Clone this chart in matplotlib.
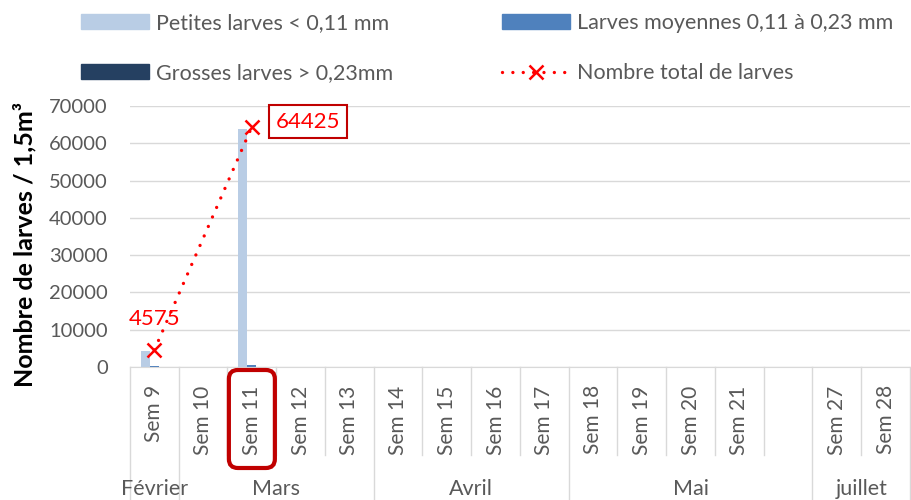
import numpy as np
import matplotlib
matplotlib.use('Agg')
import matplotlib.pyplot as plt
from matplotlib.patches import FancyBboxPatch, Patch
from matplotlib.lines import Line2D
from matplotlib.transforms import IdentityTransform, blended_transform_factory

plt.rcParams['font.family'] = ['Lato', 'DejaVu Sans']

# categories (week labels) and their month groups
weeks = ['Sem 9', 'Sem 10', 'Sem 11', 'Sem 12', 'Sem 13', 'Sem 14', 'Sem 15', 'Sem 16',
         'Sem 17', 'Sem 18', 'Sem 19', 'Sem 20', 'Sem 21', '', 'Sem 27', 'Sem 28']
months = ['Février', 'Mars', 'Avril', 'Mai', 'juillet']
month_sizes = [1, 4, 4, 5, 2]

nan = np.nan
petites = [4350, 0, 63800, 0, 0, 0, 0, 0, 0, 0, 0, 0, 0, 0, 0, 0]
moyennes = [225, 0, 600, 0, 0, 0, 0, 0, 0, 0, 0, 0, 0, 0, 0, 0]
grosses = [0, 0, 25, 0, 0, 0, 0, 0, 0, 0, 0, 0, 0, 0, 0, 0]
total = [4575, nan, 64425, nan, nan, nan, nan, nan, nan, nan, nan, nan, nan, nan, nan, nan]

c_pet = '#B9CDE5'
c_moy = '#4F81BD'
c_gro = '#254061'
grey = '#595959'
gridc = '#D9D9D9'
dots = (0, (0.01, 3.1))

fig = plt.figure(figsize=(9.12, 5), dpi=100)
ax = fig.add_axes([130 / 912, 1 - 367 / 500, 780 / 912, 261 / 500])

x = np.arange(len(weeks))
w = 0.185
ax.bar(x - w, petites, w, color=c_pet, zorder=2)
ax.bar(x, moyennes, w, color=c_moy, zorder=2)
ax.bar(x + w, grosses, w, color=c_gro, zorder=2)

tot = np.array(total, dtype=float)
m = ~np.isnan(tot)
ax.plot(x[m], tot[m], color='#FF0000', lw=2.4, linestyle=dots,
        dash_capstyle='round', marker='x', ms=10, mew=1.8, zorder=3)

ax.annotate('4575', xy=(x[0], tot[0]), xytext=(0, 31), textcoords='offset pixels',
            ha='center', va='center', color='#FF0000', fontsize=16, zorder=4)
ax.annotate('64425', xy=(x[2], tot[2]), xytext=(24, 5), textcoords='offset pixels',
            ha='left', va='center', color='#FF0000', fontsize=16, zorder=4,
            bbox=dict(boxstyle='square,pad=0.3', fc='white', ec='#C00000', lw=1.5))

ax.set_xlim(-0.5, len(weeks) - 0.5)
ax.set_ylim(0, 70000)
ax.set_yticks(np.arange(0, 70001, 10000))
ax.tick_params(axis='y', length=0, labelsize=14.5, labelcolor=grey, pad=16)
ax.set_xticks([])
ax.grid(axis='y', color=gridc, lw=1, zorder=0)
for s in ['left', 'right', 'top']:
    ax.spines[s].set_visible(False)
ax.spines['bottom'].set_color(gridc)

ax.set_ylabel('Nombre de larves / 1,5m³', fontsize=18, fontweight='bold', labelpad=9)
ax.yaxis.label.set_y(0.47)

# multi-level category axis
tr = blended_transform_factory(ax.transData, ax.transAxes)
for i, lab in enumerate(weeks):
    ax.text(i, -0.07, lab, rotation=90, ha='center', va='top', fontsize=15,
            color=grey, transform=tr)
bounds = np.concatenate([[0], np.cumsum(month_sizes)]) - 0.5
for b in range(len(weeks) + 1):
    xb = b - 0.5
    y_end = -0.51 if xb in bounds else -0.337
    ax.plot([xb, xb], [0, y_end], color=gridc, lw=1, transform=tr, clip_on=False)
for i, mo in enumerate(months):
    ax.text((bounds[i] + bounds[i + 1]) / 2, -0.466, mo, ha='center', va='center',
            fontsize=15.5, color=grey, transform=tr)

# highlight around Sem 11
fig.canvas.draw()
px = ax.transData.transform((x[2], 0))[0]
hl = FancyBboxPatch((px - 23, 500 - 468), 46, 98,
                    boxstyle='round,pad=0,rounding_size=9', fc='none',
                    ec='#C00000', lw=3, transform=IdentityTransform())
fig.add_artist(hl)

# legend: two columns placed separately
leg_kw = dict(loc='upper left', frameon=False, fontsize=15.5, labelcolor=grey,
              handlelength=3.17, handleheight=0.65, handletextpad=0.33,
              labelspacing=1.4, borderpad=0, borderaxespad=0)
leg1 = fig.legend([Patch(color=c_pet), Patch(color=c_gro)],
                  ['Petites larves < 0,11 mm', 'Grosses larves > 0,23mm'],
                  bbox_to_anchor=(81 / 912, 1 - 13 / 500), **leg_kw)
leg2 = fig.legend([Patch(color=c_moy),
                   Line2D([], [], color='#FF0000', lw=2.4, linestyle=dots,
                          dash_capstyle='round', marker='x', ms=10, mew=1.8)],
                  ['Larves moyennes 0,11 à 0,23 mm', 'Nombre total de larves'],
                  bbox_to_anchor=(502 / 912, 1 - 13 / 500), **leg_kw)

fig.savefig('out.png', dpi=100)
